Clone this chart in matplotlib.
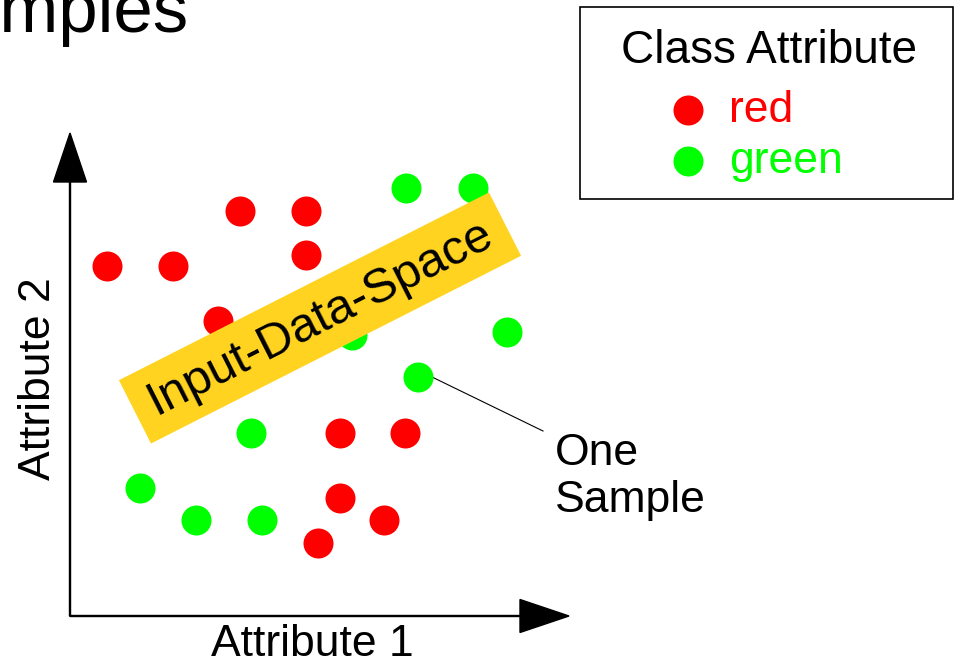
import matplotlib
matplotlib.use('Agg')
import matplotlib.pyplot as plt
from matplotlib.patches import Rectangle

plt.rcParams['font.family'] = ['Liberation Sans', 'DejaVu Sans']

# samples in attribute space (origin = corner of the axes arrows)
red_attr1 = [3.7, 10.3, 17.0, 23.6, 23.6, 14.8, 27.0, 33.5, 27.0, 31.4, 24.8]
red_attr2 = [35.0, 35.0, 40.5, 40.5, 36.1, 29.5, 18.3, 18.3, 11.8, 9.6, 7.3]
green_attr1 = [33.6, 40.3, 28.2, 43.7, 34.8, 18.1, 7.0, 12.6, 19.2]
green_attr2 = [42.8, 42.8, 28.1, 28.4, 23.9, 18.3, 12.8, 9.6, 9.6]
classes = ['red', 'green']
class_colors = ['#ff0000', '#00ff00']

W, H = 959, 664
OX, OY = 70, 616          # pixel position of the origin
SCALE = 10                # pixels per attribute unit


def px(x, y):
    # pixel (top-left origin) -> attribute units
    return (x - OX) / SCALE, (OY - y) / SCALE


fig = plt.figure(figsize=(W / 100, H / 100), dpi=100)
ax = fig.add_axes([0, 0, 1, 1])
ax.set_xlim(-OX / SCALE, (W - OX) / SCALE)
ax.set_ylim((OY - H) / SCALE, OY / SCALE)
ax.axis('off')

S = 467  # marker area, ~30 px diameter
ax.scatter(red_attr1, red_attr2, s=S, c=class_colors[0], linewidths=0, zorder=3)
ax.scatter(green_attr1, green_attr2, s=S, c=class_colors[1], linewidths=0, zorder=3)

# axes arrows
ax.arrow(0, 0, 0, px(0, 133)[1], width=0.1, head_width=3.3, head_length=4.9,
         length_includes_head=True, color='black', zorder=2)
ax.arrow(0, 0, px(569, 0)[0], 0, width=0.1, head_width=3.3, head_length=4.9,
         length_includes_head=True, color='black', zorder=2)
ax.text(*px(211, 656), 'Attribute 1', fontsize=32, ha='left', va='baseline')
ax.text(*px(50, 480), 'Attribute 2', fontsize=32, rotation=90,
        rotation_mode='anchor', ha='left', va='baseline')

# input data space band
cx, cy = px(320, 318)
bw, bh = 41.5, 7.1
ax.add_patch(Rectangle((cx - bw / 2, cy - bh / 2), bw, bh, angle=26.9,
                       rotation_point='center', facecolor='#ffd320',
                       edgecolor='none', zorder=4))
ax.text(cx, cy, 'Input-Data-Space', fontsize=35, rotation=26.9,
        rotation_mode='anchor', ha='center', va='center', zorder=5)

# callout to one of the samples
lx0, ly0 = px(432, 377)
lx1, ly1 = px(543, 431)
ax.plot([lx0, lx1], [ly0, ly1], color='black', lw=0.8, zorder=2)
ax.text(*px(555, 512), 'One\nSample', fontsize=32, ha='left', va='baseline',
        linespacing=1.2)

# legend box
x0, y0 = px(580, 199)
x1, y1 = px(953, 7)
ax.add_patch(Rectangle((x0, y0), x1 - x0, y1 - y0, facecolor='white',
                       edgecolor='black', lw=1.2, zorder=1))
ax.text(*px(769, 63), 'Class Attribute', fontsize=33, ha='center', va='baseline')
for i, (name, col) in enumerate(zip(classes, class_colors)):
    yy = 110 + i * 51
    ax.scatter(*px(688, yy), s=S, c=col, linewidths=0, zorder=3)
    ax.text(*px(729, yy + 12), name, fontsize=32, color=col, ha='left', va='baseline')

# slide title, cut off by the left edge
ax.text(*px(188, 32), 'Examples', fontsize=51, ha='right', va='baseline')

fig.savefig('out.png', dpi=100)
